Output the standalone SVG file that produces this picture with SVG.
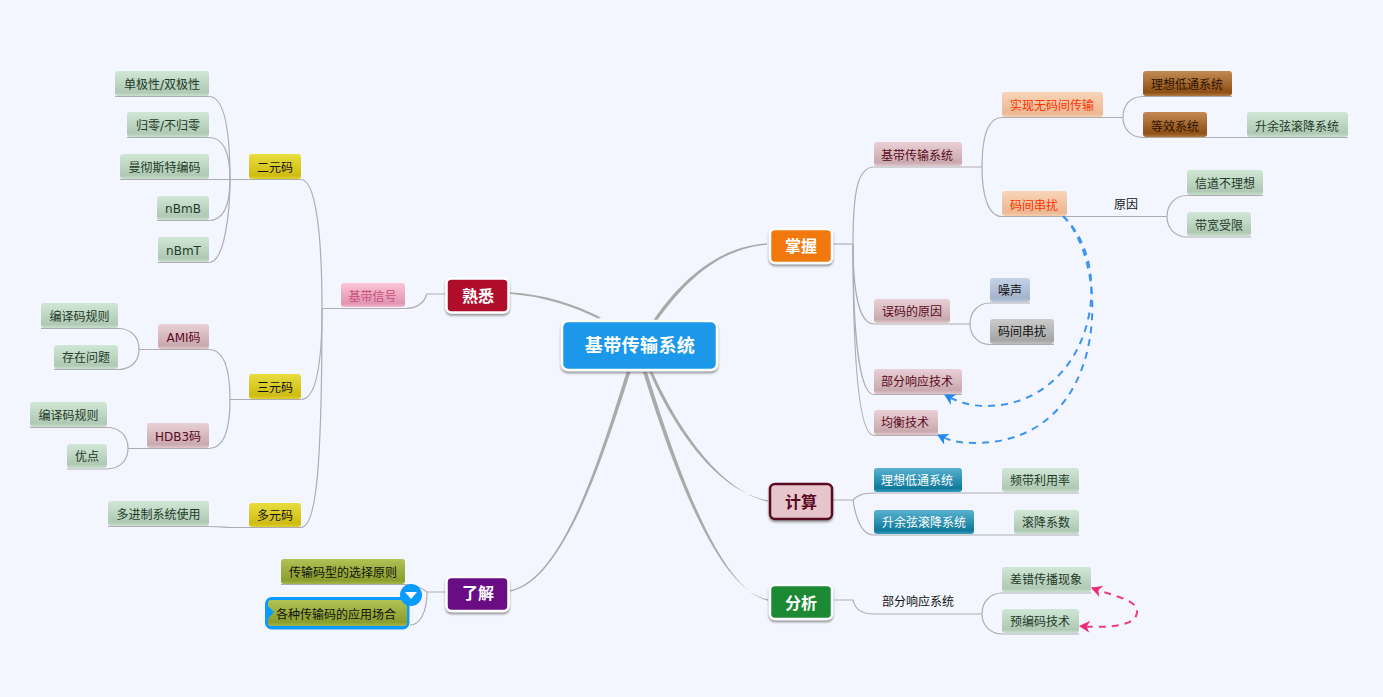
<svg xmlns="http://www.w3.org/2000/svg" width="1383" height="697" viewBox="0 0 1383 697">
<defs>
<linearGradient id="gGreen" x1="0" y1="0" x2="0" y2="1"><stop offset="0" stop-color="#d0e7d5"/><stop offset=".85" stop-color="#afc9b4"/><stop offset="1" stop-color="#c9dfcd"/></linearGradient>
<linearGradient id="gYellow" x1="0" y1="0" x2="0" y2="1"><stop offset="0" stop-color="#e8dd40"/><stop offset=".85" stop-color="#cfbc10"/><stop offset="1" stop-color="#dfd030"/></linearGradient>
<linearGradient id="gRose" x1="0" y1="0" x2="0" y2="1"><stop offset="0" stop-color="#e9d0d6"/><stop offset=".85" stop-color="#c9a9af"/><stop offset="1" stop-color="#e0c6cc"/></linearGradient>
<linearGradient id="gPink" x1="0" y1="0" x2="0" y2="1"><stop offset="0" stop-color="#fdc3d6"/><stop offset=".85" stop-color="#e096b1"/><stop offset="1" stop-color="#f5b6cb"/></linearGradient>
<linearGradient id="gOrange" x1="0" y1="0" x2="0" y2="1"><stop offset="0" stop-color="#f7d5b8"/><stop offset=".85" stop-color="#ecb892"/><stop offset="1" stop-color="#f4cead"/></linearGradient>
<linearGradient id="gBrown" x1="0" y1="0" x2="0" y2="1"><stop offset="0" stop-color="#c38a55"/><stop offset=".85" stop-color="#8f5014"/><stop offset="1" stop-color="#b07a40"/></linearGradient>
<linearGradient id="gTeal" x1="0" y1="0" x2="0" y2="1"><stop offset="0" stop-color="#58b2d0"/><stop offset=".85" stop-color="#0f7a9c"/><stop offset="1" stop-color="#3a9dbd"/></linearGradient>
<linearGradient id="gSteel" x1="0" y1="0" x2="0" y2="1"><stop offset="0" stop-color="#c5d2e6"/><stop offset=".85" stop-color="#a4b4cb"/><stop offset="1" stop-color="#bccae0"/></linearGradient>
<linearGradient id="gGray" x1="0" y1="0" x2="0" y2="1"><stop offset="0" stop-color="#cbcbcb"/><stop offset=".85" stop-color="#a5a5a5"/><stop offset="1" stop-color="#c0c0c0"/></linearGradient>
<linearGradient id="gOlive" x1="0" y1="0" x2="0" y2="1"><stop offset="0" stop-color="#b2c254"/><stop offset=".85" stop-color="#8a9e2e"/><stop offset="1" stop-color="#a5b648"/></linearGradient>
<filter id="sh" x="-20%" y="-20%" width="140%" height="150%"><feDropShadow dx="0" dy="2" stdDeviation="1.2" flood-color="#555" flood-opacity=".6"/></filter>
<marker id="ab" markerUnits="userSpaceOnUse" markerWidth="13" markerHeight="13" refX="10" refY="6" orient="auto-start-reverse"><path d="M11,6 L0,0 L3.500,6 L0,12 Z" fill="#1e88f0"/></marker>
<marker id="ap" markerUnits="userSpaceOnUse" markerWidth="13" markerHeight="13" refX="10" refY="6" orient="auto-start-reverse"><path d="M11,6 L0,0 L3.500,6 L0,12 Z" fill="#ec2a78"/></marker>
</defs>
<style>
text{font-family:"DejaVu Sans","Noto Sans CJK SC",sans-serif;font-size:12px;text-anchor:middle;dominant-baseline:central;transform:translateY(1px)}
.c{fill:none;stroke:#adadb2;stroke-width:1.2}
.t{fill:#aaaaaa;stroke:none}
.green rect{fill:url(#gGreen)}.green text{fill:#1f3a28}
.yellow rect{fill:url(#gYellow)}.yellow text{fill:#111}
.rose rect{fill:url(#gRose)}.rose text{fill:#5c0a22}
.pink rect{fill:url(#gPink)}.pink text{fill:#c64f78}
.orange rect{fill:url(#gOrange)}.orange text{fill:#ff3300}
.brown rect{fill:url(#gBrown)}.brown text{fill:#2e1500}
.teal rect{fill:url(#gTeal)}.teal text{fill:#fff}
.steel rect{fill:url(#gSteel)}.steel text{fill:#111}
.gray rect{fill:url(#gGray)}.gray text{fill:#111}
.olive rect{fill:url(#gOlive)}.olive text{fill:#111}
.plain text{fill:#111}
.main rect{stroke:#fff;stroke-width:2.5;filter:url(#sh)}
.main text{font-size:16px;font-weight:700;fill:#fff;font-family:"Noto Sans CJK SC",sans-serif;transform:translateY(-1px)}
.dash{fill:none;stroke-width:2;stroke-dasharray:7 6}
</style>
<rect width="1383" height="697" fill="#f4f6ff"/>
<g id="connectors">
<path class="t" d="M653.500,320 C678.500,284 714.500,247 767,243.300 L767,244.700 C715.500,249 681.500,286.500 657.500,320 Z"/>
<path class="t" d="M509,292.300 C545,294.300 575,304.300 601,317.500 L598,318.500 C574,306.500 545,296.500 509,293.700 Z"/>
<path class="t" d="M626.500,372 C603.500,445 564.500,580 510,590.300 L510,591.700 C566,581 606.500,445.500 630.500,372 Z"/>
<path class="t" d="M649.500,372 C670.500,421 714,491 768,500.300 L768,501.700 C716,489.500 673.500,419 652.500,372 Z"/>
<path class="t" d="M643,372 C666,445.500 714,591 768,599.300 L768,600.700 C716,589.500 670,444.500 647,372 Z"/>
<path class="c" d="M115,96.500 H209 C224,96.500 230,130 230,179.500"/>
<path class="c" d="M127,137.500 H209 C224,137.500 230,155 230,179.500"/>
<path class="c" d="M120,179.500 H249"/>
<path class="c" d="M157,220.500 H209 C224,220.500 230,205 230,179.500"/>
<path class="c" d="M158,262.500 H209 C224,262.500 230,215 230,179.500"/>
<path class="c" d="M249,179.500 H301 C315,179.500 322,230 322,308.500"/>
<path class="c" d="M249,399.500 H301 C315,399.500 322,370 322,308.500"/>
<path class="c" d="M108,526.500 H209 C220,526.500 225,527.500 230,527.500 H301 C316,527.500 322,470 322,308.500"/>
<path class="c" d="M322,308.500 H405 C420,308.500 425,300 427,294 H447"/>
<path class="c" d="M158,349.500 H209 C224,349.500 230,370 230,399.500 H249"/>
<path class="c" d="M147,448.500 H209 C224,448.500 230,430 230,399.500"/>
<path class="c" d="M41,328.500 H118 C130,328.500 139,336 139,349.500 H158"/>
<path class="c" d="M54,369.500 H118 C130,369.500 139,362 139,349.500"/>
<path class="c" d="M30,427.500 H107 C119,427.500 128,435 128,448.500 H147"/>
<path class="c" d="M67,469 H107 C119,469 128,461 128,448.500"/>
<path class="c" d="M447,592 H427 C424,590 418,584.500 405,584.500 H281"/>
<path class="c" d="M427,592 C427,612 420,625 410,625"/>
<path class="c" d="M833,244 H853"/>
<path class="c" d="M853,244 C853,190 858,167 874,167 H982"/>
<path class="c" d="M982,167 C982,135 988,117.500 1002,117.500 H1123"/>
<path class="c" d="M982,167 C982,195 988,216.500 1002,216.500 H1167"/>
<path class="c" d="M1123,117.500 C1123,105 1130,96.500 1143,96.500 H1232"/>
<path class="c" d="M1123,117.500 C1123,128 1130,137.500 1143,137.500 H1348"/>
<path class="c" d="M1167,216.500 C1167,205 1175,195.500 1187,195.500 H1263"/>
<path class="c" d="M1167,216.500 C1167,228 1175,237 1187,237 H1251"/>
<path class="c" d="M853,244 C853,295 860,324 874,324 H970"/>
<path class="c" d="M970,324 C970,312 978,303 990,303 H1030"/>
<path class="c" d="M970,324 C970,335 978,344.500 990,344.500 H1054"/>
<path class="c" d="M853,244 C853,340 860,394.500 874,394.500 H962"/>
<path class="c" d="M853,244 C853,370 860,435.500 874,435.500 H938"/>
<path class="c" d="M833,500 H853 C856,497 860,493 874,493 H1079"/>
<path class="c" d="M853,500 C856,520 862,535 874,535 H1079"/>
<path class="c" d="M833,600 H853 C855,610 862,614 874,614 H982"/>
<path class="c" d="M982,614 C982,602 990,593 1002,593 H1091"/>
<path class="c" d="M982,614 C982,625 990,634 1002,634 H1079"/>
<path class="dash" d="M1063,216 C1120,270 1090,406 985,406 C970,406 958,402 945,395" stroke="#3d94ee" marker-end="url(#ab)"/>
<path class="dash" d="M1063,216 C1112,265 1110,443 975,443 C960,443 950,441 938,435" stroke="#3d94ee" marker-end="url(#ab)"/>
<path class="dash" d="M1092,588 C1120,598 1137,600 1137,612 C1137,624 1115,629 1080,626" stroke="#ec3c82" marker-start="url(#ap)" marker-end="url(#ap)"/>
</g>
<g id="n-center" class="main"><rect x="562" y="321" width="155" height="49" rx="6" fill="#1a98ea"/><text x="640" y="345" style="font-size:18px;letter-spacing:.4px">基带传输系统</text></g>
<g id="n-shuxi" class="main"><rect x="446.500" y="278.500" width="62" height="34" rx="5" fill="#b0092c"/><text x="478" y="296">熟悉</text></g>
<g id="n-liaojie" class="main"><rect x="446.500" y="577" width="62" height="34" rx="5" fill="#6a0a85"/><text x="478" y="593">了解</text></g>
<g id="n-zhangwo" class="main"><rect x="770" y="229" width="62" height="34" rx="5" fill="#f0780f"/><text x="801" y="246">掌握</text></g>
<g id="n-jisuan" class="main"><rect x="770" y="484" width="62" height="35" rx="5" fill="#e6c6cc" style="stroke:#5a0a20"/><text x="801" y="502" style="fill:#5a0a20">计算</text></g>
<g id="n-fenxi" class="main"><rect x="770" y="585" width="62" height="34" rx="5" fill="#1a8a35"/><text x="801" y="603">分析</text></g>
<g id="n1" class="green"><rect x="115" y="71" width="94" height="25" rx="3"/><text x="162" y="84">单极性/双极性</text></g>
<g id="n2" class="green"><rect x="127" y="112" width="82" height="25" rx="3"/><text x="168" y="125">归零/不归零</text></g>
<g id="n3" class="green"><rect x="120" y="154" width="89" height="25" rx="3"/><text x="164.500" y="167">曼彻斯特编码</text></g>
<g id="n4" class="green"><rect x="157" y="196" width="52" height="24" rx="3"/><text x="183" y="208">nBmB</text></g>
<g id="n5" class="green"><rect x="158" y="237" width="51" height="25" rx="3"/><text x="183.500" y="250">nBmT</text></g>
<g id="n6" class="yellow"><rect x="249" y="154" width="52" height="25" rx="3"/><text x="275" y="167">二元码</text></g>
<g id="n7" class="yellow"><rect x="249" y="374" width="52" height="25" rx="3"/><text x="275" y="387">三元码</text></g>
<g id="n8" class="yellow"><rect x="249" y="503" width="52" height="24" rx="3"/><text x="275" y="515">多元码</text></g>
<g id="n9" class="rose"><rect x="158" y="324" width="51" height="25" rx="3"/><text x="183.500" y="337">AMI码</text></g>
<g id="n10" class="rose"><rect x="147" y="423" width="62" height="25" rx="3"/><text x="178" y="436">HDB3码</text></g>
<g id="n11" class="green"><rect x="41" y="303" width="77" height="25" rx="3"/><text x="79.500" y="316">编译码规则</text></g>
<g id="n12" class="green"><rect x="54" y="345" width="64" height="24" rx="3"/><text x="86" y="357">存在问题</text></g>
<g id="n13" class="green"><rect x="30" y="402" width="77" height="25" rx="3"/><text x="68.500" y="415">编译码规则</text></g>
<g id="n14" class="green"><rect x="67" y="444" width="40" height="24" rx="3"/><text x="87" y="456">优点</text></g>
<g id="n15" class="green"><rect x="108" y="501" width="101" height="25" rx="3"/><text x="158.500" y="514">多进制系统使用</text></g>
<g id="n16" class="pink"><rect x="341" y="283" width="64" height="24" rx="3"/><text x="372.500" y="296">基带信号</text></g>
<g id="n17" class="olive"><rect x="281" y="559" width="124" height="25" rx="3"/><text x="343" y="572">传输码型的选择原则</text></g>
<g id="n18" class="olive"><rect x="266.750" y="598.750" width="141" height="29" rx="5" style="fill:none;stroke:#0a9bff;stroke-width:3.500"/><rect x="268" y="600" width="139" height="26" rx="3"/><path d="M266,604 L274,612 L266,621 Z" fill="#0a9bff"/><text x="336" y="614">各种传输码的应用场合</text><circle cx="411" cy="595" r="11" fill="#0a9bff"/><path d="M405,592 H417 L411,599 Z" fill="#fff"/></g>
<g id="n19" class="rose"><rect x="874" y="142" width="88" height="24" rx="3"/><text x="917" y="155">基带传输系统</text></g>
<g id="n20" class="orange"><rect x="1002" y="92" width="101" height="25" rx="3"/><text x="1052" y="105">实现无码间传输</text></g>
<g id="n21" class="orange"><rect x="1002" y="191" width="65" height="25" rx="3"/><text x="1034" y="205">码间串扰</text></g>
<g id="n22" class="brown"><rect x="1143" y="71" width="89" height="25" rx="3"/><text x="1187" y="84">理想低通系统</text></g>
<g id="n23" class="brown"><rect x="1143" y="112" width="64" height="25" rx="3"/><text x="1175" y="126">等效系统</text></g>
<g id="n24" class="green"><rect x="1247" y="112" width="101" height="25" rx="3"/><text x="1297" y="126">升余弦滚降系统</text></g>
<g id="n25" class="plain"><text x="1126" y="204">原因</text></g>
<g id="n26" class="green"><rect x="1187" y="170" width="76" height="25" rx="3"/><text x="1225" y="183">信道不理想</text></g>
<g id="n27" class="green"><rect x="1187" y="212" width="64" height="24" rx="3"/><text x="1219" y="225">带宽受限</text></g>
<g id="n28" class="rose"><rect x="874" y="299" width="76" height="24" rx="3"/><text x="912" y="311">误码的原因</text></g>
<g id="n29" class="steel"><rect x="990" y="278" width="40" height="24" rx="3"/><text x="1010" y="290">噪声</text></g>
<g id="n30" class="gray"><rect x="990" y="319" width="64" height="25" rx="3"/><text x="1022" y="331">码间串扰</text></g>
<g id="n31" class="rose"><rect x="874" y="369" width="88" height="25" rx="3"/><text x="917" y="381">部分响应技术</text></g>
<g id="n32" class="rose"><rect x="874" y="410" width="64" height="25" rx="3"/><text x="905" y="422">均衡技术</text></g>
<g id="n33" class="teal"><rect x="874" y="468" width="88" height="24" rx="3"/><text x="917" y="480">理想低通系统</text></g>
<g id="n34" class="green"><rect x="1002" y="468" width="77" height="24" rx="3"/><text x="1040" y="480">频带利用率</text></g>
<g id="n35" class="teal"><rect x="874" y="510" width="100" height="24" rx="3"/><text x="924" y="522">升余弦滚降系统</text></g>
<g id="n36" class="green"><rect x="1014" y="510" width="65" height="24" rx="3"/><text x="1046" y="522">滚降系数</text></g>
<g id="n37" class="plain"><text x="918" y="601">部分响应系统</text></g>
<g id="n38" class="green"><rect x="1002" y="567" width="89" height="25" rx="3"/><text x="1046" y="579">差错传播现象</text></g>
<g id="n39" class="green"><rect x="1002" y="609" width="77" height="24" rx="3"/><text x="1040" y="621">预编码技术</text></g>
</svg>
